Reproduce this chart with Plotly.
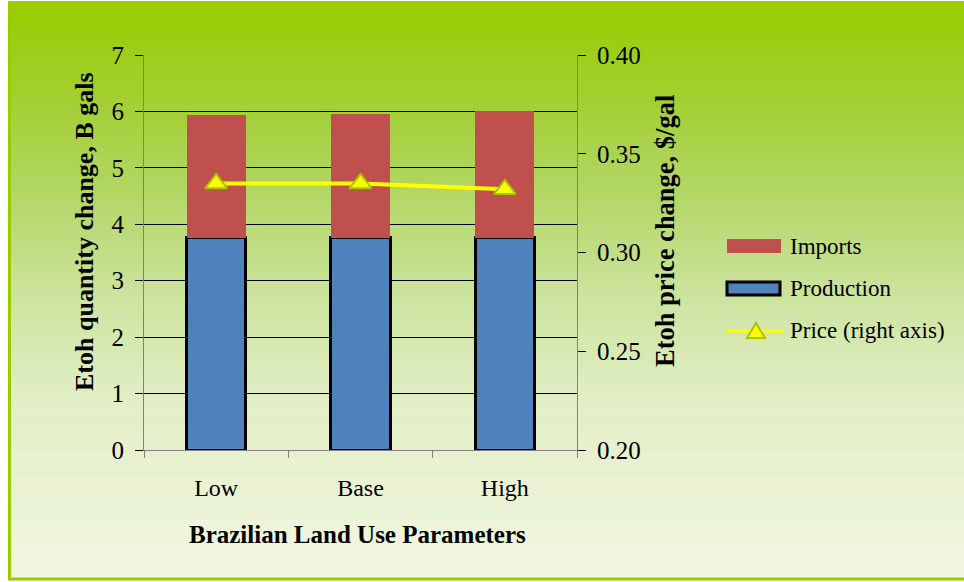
import plotly.graph_objects as go

categories = ["Low", "Base", "High"]
production = [3.76, 3.76, 3.76]
imports = [2.18, 2.20, 2.24]
price = [0.335, 0.335, 0.332]

W, H = 964, 582
L, R, T, B = 144, 577, 55, 450  # plot area pixels

def px_x(p):
    return (p - L) / (R - L)

def px_y(p):
    return (B - p) / (B - T)

# gradient background via bands
stops = [(0, (153, 204, 0)), (100, (163, 207, 50)), (200, (180, 215, 105)),
         (300, (205, 228, 160)), (400, (226, 238, 197)), (582, (242, 247, 226))]

def col(y):
    for (y0, c0), (y1, c1) in zip(stops[:-1], stops[1:]):
        if y0 <= y <= y1:
            t = (y - y0) / (y1 - y0)
            return "rgb(%d,%d,%d)" % tuple(round(a + (b - a) * t) for a, b in zip(c0, c1))
    return "rgb(%d,%d,%d)" % stops[-1][1]

shapes = []
top, bot = 1, 580
n = 116
step = (bot - top) / n
for i in range(n):
    y0 = top + i * step
    y1 = y0 + step + 0.6
    shapes.append(dict(type="rect", xref="paper", yref="paper", layer="below",
                       x0=px_x(8), x1=px_x(966), y0=px_y(y1), y1=px_y(y0),
                       line=dict(width=0), fillcolor=col((y0 + y1) / 2)))
# green border left and bottom
shapes.append(dict(type="line", xref="paper", yref="paper", layer="below",
                   x0=px_x(9.5), x1=px_x(9.5), y0=px_y(580), y1=px_y(1),
                   line=dict(color="#99cc00", width=3)))
shapes.append(dict(type="line", xref="paper", yref="paper", layer="below",
                   x0=px_x(8), x1=px_x(966), y0=px_y(579), y1=px_y(579),
                   line=dict(color="#99cc00", width=3)))

# custom legend swatches (decoration)
shapes.append(dict(type="rect", xref="paper", yref="paper",
                   x0=px_x(727), x1=px_x(781), y0=px_y(253), y1=px_y(239),
                   fillcolor="#c0504d", line=dict(width=0)))
shapes.append(dict(type="rect", xref="paper", yref="paper",
                   x0=px_x(727), x1=px_x(780), y0=px_y(295), y1=px_y(282),
                   fillcolor="#4f81bd", line=dict(color="black", width=3)))
shapes.append(dict(type="line", xref="paper", yref="paper",
                   x0=px_x(725), x1=px_x(784), y0=px_y(331), y1=px_y(331),
                   line=dict(color="#ffff00", width=3)))
shapes.append(dict(type="path", xref="paper", yref="paper",
                   path="M %f %f L %f %f L %f %f Z" % (px_x(747), px_y(338), px_x(756), px_y(323),
                                                       px_x(765), px_y(338)),
                   fillcolor="#ffff00", line=dict(color="#a4c400", width=2)))

font = "Liberation Serif"

fig = go.Figure()
fig.add_trace(go.Bar(x=categories, y=production, name="Production",
                     marker=dict(color="#4f81bd", line=dict(color="black", width=3))))
fig.add_trace(go.Bar(x=categories, y=imports, name="Imports",
                     marker=dict(color="#c0504d", line=dict(width=0))))
fig.add_trace(go.Scatter(x=categories, y=price, name="Price (right axis)", yaxis="y2",
                         mode="lines+markers",
                         line=dict(color="#ffff00", width=4),
                         marker=dict(symbol="triangle-up", size=19, color="#ffff00",
                                     line=dict(color="#a4c400", width=2))))

legend_items = [("Imports", 246), ("Production", 288), ("Price (right axis)", 330)]
annotations = [
    dict(text="<b>Etoh quantity change, B gals</b>", textangle=-90, showarrow=False,
         xref="paper", yref="paper", x=px_x(85), y=px_y(232),
         xanchor="center", yanchor="middle", font=dict(size=26)),
    dict(text="<b>Etoh price change, $/gal</b>", textangle=-90, showarrow=False,
         xref="paper", yref="paper", x=px_x(665), y=px_y(231),
         xanchor="center", yanchor="middle", font=dict(size=26.5)),
    dict(text="<b>Brazilian Land Use Parameters</b>", showarrow=False,
         xref="paper", yref="paper", x=px_x(357), y=px_y(534),
         xanchor="center", yanchor="middle", font=dict(size=25)),
]
for name, yy in legend_items:
    annotations.append(dict(text=name, showarrow=False, xref="paper", yref="paper",
                            x=px_x(788), y=px_y(yy), xanchor="left", yanchor="middle",
                            font=dict(size=23)))

fig.update_layout(
    width=W, height=H,
    margin=dict(l=L, r=W - R, t=T, b=H - B),
    paper_bgcolor="white", plot_bgcolor="rgba(0,0,0,0)",
    barmode="stack", bargap=0.59, showlegend=False,
    font=dict(family=font, size=24, color="black"),
    shapes=shapes,
    xaxis=dict(showline=True, linecolor="#808080", linewidth=1,
               ticks="outside", tickson="boundaries", ticklen=7, tickcolor="#808080",
               ticklabelstandoff=16, showgrid=False,
               tickfont=dict(size=24)),
    yaxis=dict(range=[0, 7], dtick=1, showgrid=True, gridcolor="black", gridwidth=1,
               zeroline=False, showline=True, linecolor="#808080", linewidth=1,
               ticks="outside", ticklen=8, tickcolor="black",
               ticklabelstandoff=6, tickfont=dict(size=25)),
    yaxis2=dict(range=[0.2, 0.4], dtick=0.05, tickformat=".2f", overlaying="y", side="right",
                showgrid=False, zeroline=False, showline=True, linecolor="#808080", linewidth=1,
                ticks="outside", ticklen=8, tickcolor="black",
                ticklabelstandoff=6, tickfont=dict(size=25)),
    annotations=annotations,
)

fig.write_html("out.html", config={"displayModeBar": False},
               post_script="document.body.style.margin='0px';")
